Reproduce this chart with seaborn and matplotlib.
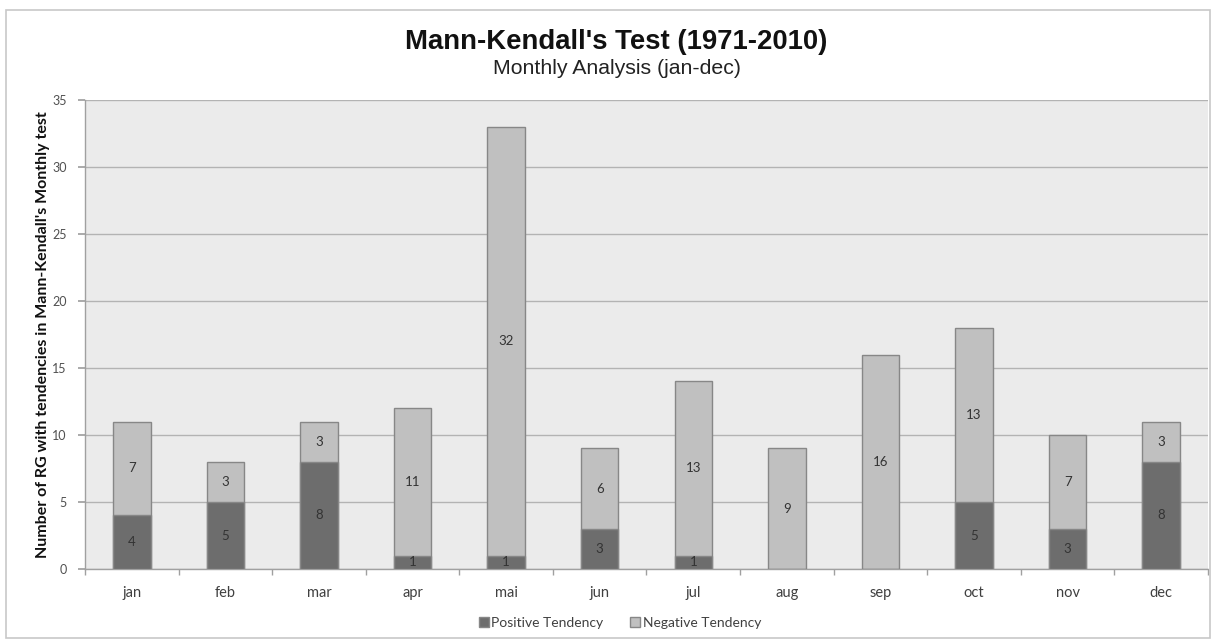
import matplotlib
matplotlib.use("Agg")
import matplotlib.pyplot as plt
import seaborn as sns
import pandas as pd
import numpy as np
from matplotlib.patches import Rectangle
from matplotlib.lines import Line2D

months = ["jan", "feb", "mar", "apr", "mai", "jun", "jul", "aug", "sep", "oct", "nov", "dec"]
positive = [4, 5, 8, 1, 1, 3, 1, 0, 0, 5, 3, 8]
negative = [7, 3, 3, 11, 32, 6, 13, 9, 16, 13, 7, 3]
yticks = [0, 5, 10, 15, 20, 25, 30, 35]

title = "Mann-Kendall's Test (1971-2010)"
subtitle = "Monthly Analysis (jan-dec)"
ylabel = "Number of RG with tendencies in Mann-Kendall's Monthly test"
legend_labels = ["Positive Tendency", "Negative Tendency"]

POS_C = "#6d6d6d"
NEG_C = "#c0c0c0"
EDGE_C = "#878787"

sns.set_theme(style="white")
plt.rcParams["font.family"] = ["Lato", "DejaVu Sans"]

df = pd.DataFrame({"month": months, "pos": positive, "neg": negative})
df["total"] = df["pos"] + df["neg"]

fig = plt.figure(figsize=(12.16, 6.43), dpi=100)
fig.patch.set_facecolor("white")
ax = fig.add_axes([85/1216, 1-569/643, (1208-85)/1216, (569-100)/643])
ax.set_facecolor("#ebebeb")

sns.barplot(data=df, x="month", y="total", color=NEG_C, saturation=1, width=0.4,
            edgecolor=EDGE_C, linewidth=1.0, ax=ax, zorder=3)
sns.barplot(data=df, x="month", y="pos", color=POS_C, saturation=1, width=0.4,
            edgecolor=EDGE_C, linewidth=1.0, ax=ax, zorder=4)

ax.set_xlim(-0.5, len(months) - 0.5)
ax.set_ylim(0, 35)
ax.set_yticks(yticks)
ax.yaxis.grid(True, color="#b3b3b3", linewidth=1.0, zorder=1)
ax.set_axisbelow(True)
ax.set_xlabel("")
ax.set_ylabel(ylabel, fontsize=11.5, fontweight="bold", color="#111111")
ax.yaxis.set_label_coords(-0.031, 0.5)

for s in ["top", "right"]:
    ax.spines[s].set_visible(False)
for s in ["left", "bottom"]:
    ax.spines[s].set_color("#a0a0a0")
    ax.spines[s].set_linewidth(1.0)

ax.tick_params(axis="y", which="major", length=5, color="#a0a0a0", labelsize=9, labelcolor="#505050", pad=8, left=True)
ax.tick_params(axis="x", which="major", length=0, labelsize=10.5, labelcolor="#404040", pad=12)
ax.set_xticks(np.arange(-0.5, len(months) + 0.5, 1), minor=True)
ax.tick_params(axis="x", which="minor", length=4, color="#a0a0a0", bottom=True)

for i, (p, n) in enumerate(zip(positive, negative)):
    if p > 0:
        ax.text(i, p / 2, str(p), ha="center", va="center", fontsize=9.5, color="#333333", zorder=5)
    if n > 0:
        ax.text(i, p + n / 2, str(n), ha="center", va="center", fontsize=9.5, color="#333333", zorder=5)

fig.text(616/1216, 1 - 49/643, title, ha="center", va="baseline", fontsize=19.8, fontweight="bold",
         family=["Liberation Sans", "DejaVu Sans"], color="#111111")
fig.text(617/1216, 1 - 74/643, subtitle, ha="center", va="baseline", fontsize=15.3,
         family=["Liberation Sans", "DejaVu Sans"], color="#222222")

handles = [Line2D([], [], marker="s", linestyle="none", markersize=7, markerfacecolor=POS_C, markeredgecolor=EDGE_C),
           Line2D([], [], marker="s", linestyle="none", markersize=7, markerfacecolor=NEG_C, markeredgecolor=EDGE_C)]
fig.legend(handles, legend_labels, loc="center", bbox_to_anchor=(619/1216, 1 - 623/643), ncol=2,
           frameon=False, fontsize=10, handletextpad=0.05, columnspacing=1.8, labelcolor="#404040",
           handlelength=1.0)

fig.patches.append(Rectangle((6/1216, 5/643), (1210-6)/1216, (633-5)/643, transform=fig.transFigure,
                             fill=False, edgecolor="#c8c8c8", linewidth=1.2, zorder=0))

fig.savefig("out.png", dpi=100)
